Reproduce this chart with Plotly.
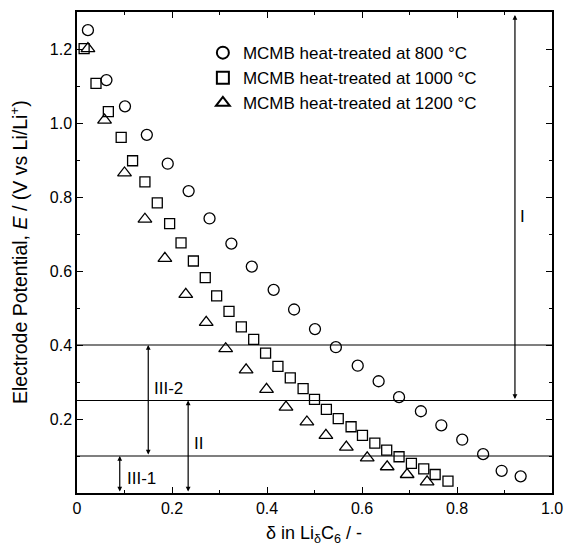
import plotly.graph_objects as go

# ---- data ----
x_800 = [0.023, 0.062, 0.101, 0.147, 0.191, 0.235, 0.279, 0.325, 0.368, 0.414, 0.457,
         0.501, 0.545, 0.591, 0.635, 0.678, 0.724, 0.767, 0.811, 0.855, 0.894, 0.934]
y_800 = [1.251, 1.116, 1.045, 0.968, 0.890, 0.816, 0.742, 0.674, 0.612, 0.549, 0.496,
         0.443, 0.394, 0.344, 0.302, 0.259, 0.221, 0.183, 0.144, 0.105, 0.060, 0.045]

x_1000 = [0.015, 0.040, 0.066, 0.093, 0.117, 0.143, 0.169, 0.195, 0.219, 0.245, 0.270,
          0.294, 0.320, 0.346, 0.372, 0.397, 0.423, 0.449, 0.476, 0.500, 0.525, 0.550,
          0.577, 0.601, 0.627, 0.652, 0.678, 0.704, 0.730, 0.754, 0.781]
y_1000 = [1.201, 1.107, 1.031, 0.961, 0.898, 0.841, 0.784, 0.728, 0.676, 0.627, 0.582,
          0.533, 0.491, 0.449, 0.415, 0.378, 0.342, 0.311, 0.282, 0.253, 0.226, 0.201,
          0.179, 0.156, 0.135, 0.116, 0.098, 0.080, 0.065, 0.050, 0.032]

x_1200 = [0.023, 0.058, 0.100, 0.143, 0.185, 0.229, 0.272, 0.313, 0.356, 0.399, 0.440,
          0.484, 0.524, 0.567, 0.611, 0.653, 0.695, 0.737]
y_1200 = [1.201, 1.008, 0.865, 0.740, 0.634, 0.537, 0.461, 0.390, 0.333, 0.280, 0.232,
          0.192, 0.156, 0.124, 0.095, 0.071, 0.050, 0.030]

series_names = ["MCMB heat-treated at 800 °C",
                "MCMB heat-treated at 1000 °C",
                "MCMB heat-treated at 1200 °C"]

level_lines = [0.4, 0.25, 0.1]

x_tickvals = [0, 0.2, 0.4, 0.6, 0.8, 1.0]
x_ticktext = ["0", "0.2", "0.4", "0.6", "0.8", "1.0"]
y_tickvals = [0.2, 0.4, 0.6, 0.8, 1.0, 1.2]
y_ticktext = ["0.2", "0.4", "0.6", "0.8", "1.0", "1.2"]
x_minor = [0.1, 0.3, 0.5, 0.7, 0.9]
y_minor = [0.1, 0.3, 0.5, 0.7, 0.9, 1.1]

# regions: (label, x of arrow, y from, y to, label x, label y)
regions = [
    ("I", 0.922, 0.25, 1.292, 0.937, 0.748),
    ("III-2", 0.150, 0.1, 0.4, 0.193, 0.283),
    ("II", 0.234, 0.0, 0.25, 0.256, 0.135),
    ("III-1", 0.090, 0.0, 0.1, 0.135, 0.038),
]

FONT = "Liberation Sans, Arial, sans-serif"

fig = go.Figure()
fig.add_trace(go.Scatter(x=x_800, y=y_800, mode="markers", name=series_names[0],
                         marker=dict(symbol="circle-open", size=11, color="black",
                                     line=dict(width=1.3))))
fig.add_trace(go.Scatter(x=x_1000, y=y_1000, mode="markers", name=series_names[1],
                         marker=dict(symbol="square-open", size=10, color="black",
                                     line=dict(width=1.3))))
fig.add_trace(go.Scatter(x=x_1200, y=y_1200, mode="markers", name=series_names[2],
                         marker=dict(symbol="triangle-up-open", size=12, color="black",
                                     line=dict(width=1.3))))

for yv in level_lines:
    fig.add_shape(type="line", xref="paper", x0=0, x1=1, yref="y", y0=yv, y1=yv,
                  line=dict(color="black", width=1.2))

for label, xa, y0, y1, lx, ly in regions:
    fig.add_annotation(x=xa, y=y1, ax=xa, ay=y0, xref="x", yref="y", axref="x", ayref="y",
                       text="", showarrow=True, arrowhead=2, arrowsize=0.8, arrowwidth=1.2,
                       arrowside="end+start", arrowcolor="black", standoff=0, startstandoff=0)
    fig.add_annotation(x=lx, y=ly, xref="x", yref="y", text=label, showarrow=False,
                       xanchor="center", yanchor="middle",
                       font=dict(size=17, color="black", family=FONT))

# axis titles as annotations
fig.add_annotation(x=0.498, y=-0.087, xref="paper", yref="paper",
                   xanchor="center", yanchor="middle",
                   text="δ in Li<sub>δ</sub>C<sub>6</sub> / -", showarrow=False,
                   font=dict(size=18, color="black", family=FONT))
fig.add_annotation(x=-0.123, y=0.50, xref="paper", yref="paper", textangle=-90,
                   xanchor="center", yanchor="middle",
                   text="Electrode Potential, <i>E</i> / (V vs Li/Li<sup>+</sup>)",
                   showarrow=False, font=dict(size=19.5, color="black", family=FONT))

axis_common = dict(showline=True, linecolor="black", linewidth=1.5, mirror="allticks",
                   ticks="inside", ticklen=6, tickwidth=1.2, tickcolor="black",
                   showgrid=False, zeroline=False,
                   tickfont=dict(size=16, color="black", family=FONT))

fig.update_xaxes(range=[0, 1.0], tickmode="array", tickvals=x_tickvals, ticktext=x_ticktext,
                 minor=dict(tickmode="array", tickvals=x_minor, ticks="inside", ticklen=3,
                            tickcolor="black", tickwidth=1),
                 **axis_common)
fig.update_yaxes(range=[0, 1.3], tickmode="array", tickvals=y_tickvals, ticktext=y_ticktext,
                 minor=dict(tickmode="array", tickvals=y_minor, ticks="inside", ticklen=3,
                            tickcolor="black", tickwidth=1),
                 **axis_common)

fig.update_layout(
    width=573, height=557,
    margin=dict(l=77, r=11, t=10, b=64),
    paper_bgcolor="white", plot_bgcolor="white",
    font=dict(family=FONT, color="black"),
    showlegend=True,
    legend=dict(x=0.265, y=0.952, xanchor="left", yanchor="top",
                bgcolor="rgba(0,0,0,0)", borderwidth=0,
                font=dict(size=17, color="black", family=FONT),
                tracegroupgap=0, itemsizing="constant"),
)

fig.write_html("out.html")
